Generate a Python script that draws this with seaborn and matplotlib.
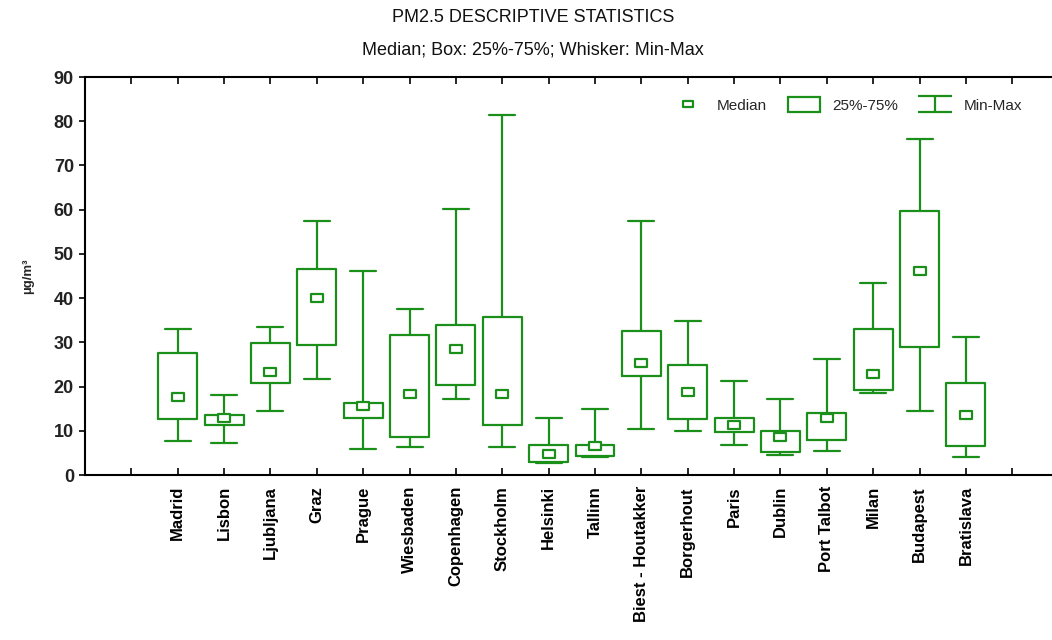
import numpy as np
import pandas as pd
import matplotlib
matplotlib.use("Agg")
import matplotlib.pyplot as plt
from matplotlib.path import Path
from matplotlib.lines import Line2D
from matplotlib.patches import Patch
import seaborn as sns

cities = ["Madrid", "Lisbon", "Ljubljana", "Graz", "Prague", "Wiesbaden", "Copenhagen",
          "Stockholm", "Helsinki", "Tallinn", "Biest - Houtakker", "Borgerhout", "Paris",
          "Dublin", "Port Talbot", "Milan", "Budapest", "Bratislava"]
mins    = [7.6, 7.2, 14.4, 21.6, 5.8, 6.3, 17.1, 6.3, 2.8, 4.1, 10.3, 9.9, 6.7, 4.5, 5.4, 18.5, 14.4, 4.0]
q1s     = [12.6, 11.2, 20.7, 29.3, 13.0, 8.5, 20.3, 11.2, 3.0, 4.3, 22.5, 12.6, 9.8, 5.3, 8.0, 19.3, 28.9, 6.6]
medians = [17.6, 13.0, 23.3, 40.0, 15.5, 18.3, 28.4, 18.3, 4.7, 6.5, 25.3, 18.7, 11.2, 8.5, 13.0, 22.8, 46.2, 13.5]
q3s     = [27.5, 13.6, 29.8, 46.5, 16.2, 31.6, 33.9, 35.7, 6.7, 6.7, 32.6, 24.8, 13.0, 9.9, 14.0, 33.0, 59.7, 20.7]
maxs    = [33.0, 18.0, 33.4, 57.5, 46.1, 37.5, 60.1, 81.4, 13.0, 14.9, 57.5, 34.8, 21.2, 17.1, 26.2, 43.4, 76.0, 31.2]
yticks = [0, 10, 20, 30, 40, 50, 60, 70, 80, 90]

title = "PM2.5 DESCRIPTIVE STATISTICS"
subtitle = "Median; Box: 25%-75%; Whisker: Min-Max"
ylabel = "µg/m³"
legend_labels = ["Median", "25%-75%", "Min-Max"]

GREEN = "#1a8f1a"

# five-point data per city so that percentiles reproduce min/q1/median/q3/max
rows = []
for c, a, b, m, d, e in zip(cities, mins, q1s, medians, q3s, maxs):
    for v in (a, b, m, d, e):
        rows.append({"city": c, "value": v})
df = pd.DataFrame(rows)
med_df = pd.DataFrame({"city": cities, "value": medians})

sns.set_style("white")
plt.rcParams["font.family"] = ["Liberation Sans", "DejaVu Sans"]

fig = plt.figure(figsize=(10.52, 6.4), dpi=100)
W, H = 1052, 640
ax = fig.add_axes([85 / W, 1 - 475 / H, 1020 / W, (475 - 77) / H])

sns.boxplot(data=df, x="city", y="value", order=cities, whis=(0, 100), width=0.84,
            fill=False, color=GREEN, linewidth=1.6, showfliers=False,
            medianprops={"visible": False}, ax=ax)

# adjust cap widths
for ln in ax.lines:
    xd = np.asarray(ln.get_xdata(), dtype=float)
    yd = np.asarray(ln.get_ydata(), dtype=float)
    if len(xd) == 2 and yd[0] == yd[1] and xd[0] != xd[1]:
        w = abs(xd[1] - xd[0])
        if w < 0.8:
            cx = xd.mean()
            ln.set_xdata([cx - 0.28, cx + 0.28])

rect = Path([(-1, -0.62), (1, -0.62), (1, 0.62), (-1, 0.62), (-1, -0.62)],
            [Path.MOVETO, Path.LINETO, Path.LINETO, Path.LINETO, Path.CLOSEPOLY])
sns.stripplot(data=med_df, x="city", y="value", order=cities, jitter=False,
              marker=rect, size=8.5, color="white", edgecolor=GREEN, linewidth=1.6,
              ax=ax, zorder=5)

ax.set_xlim(-2, 20)
ax.set_ylim(0, 90)
ax.set_xticks(range(-1, 19))
ax.set_xticklabels([""] + cities + [""], rotation=90, fontsize=12, fontweight="bold",
                   color="black")
ax.set_yticks(yticks)
ax.set_yticklabels([str(v) for v in yticks], fontsize=13, fontweight="bold", color="#222222")
ax.tick_params(axis="x", direction="in", top=True, bottom=True, length=5, width=1.2,
               color="black", pad=8)
ax.tick_params(axis="y", direction="out", left=True, length=4, width=1.2, color="black", pad=4)
ax.set_xlabel("")
ax.set_ylabel(ylabel, fontsize=9.5, fontweight="bold", labelpad=14)
for s in ax.spines.values():
    s.set_color("black")
    s.set_linewidth(1.5)

fig.text(533 / W, 1 - 18 / H, title, ha="center", va="center", fontsize=13, color="#111111")
fig.text(533 / W, 1 - 50 / H, subtitle, ha="center", va="center", fontsize=13, color="#111111")

ibeam = Path([(-1, 0.5), (1, 0.5), (0, 0.5), (0, -0.5), (-1, -0.5), (1, -0.5)],
             [Path.MOVETO, Path.LINETO, Path.MOVETO, Path.LINETO, Path.MOVETO, Path.LINETO])
handles = [
    Line2D([], [], marker=rect, linestyle="", markerfacecolor="white",
           markeredgecolor=GREEN, markeredgewidth=1.6, markersize=7.5),
    Patch(facecolor="white", edgecolor=GREEN, linewidth=1.6),
    Line2D([], [], marker=ibeam, linestyle="", markerfacecolor="none",
           markeredgecolor=GREEN, markeredgewidth=1.6, markersize=24),
]
fig.legend(handles, legend_labels, loc="center left", bbox_to_anchor=(672 / W, 1 - 105 / H),
           bbox_transform=fig.transFigure, ncol=3, frameon=False, fontsize=11,
           handlelength=2.1, handleheight=1.1, columnspacing=1.4, handletextpad=0.8,
           borderpad=0, borderaxespad=0)

fig.savefig("out.png", dpi=100)
